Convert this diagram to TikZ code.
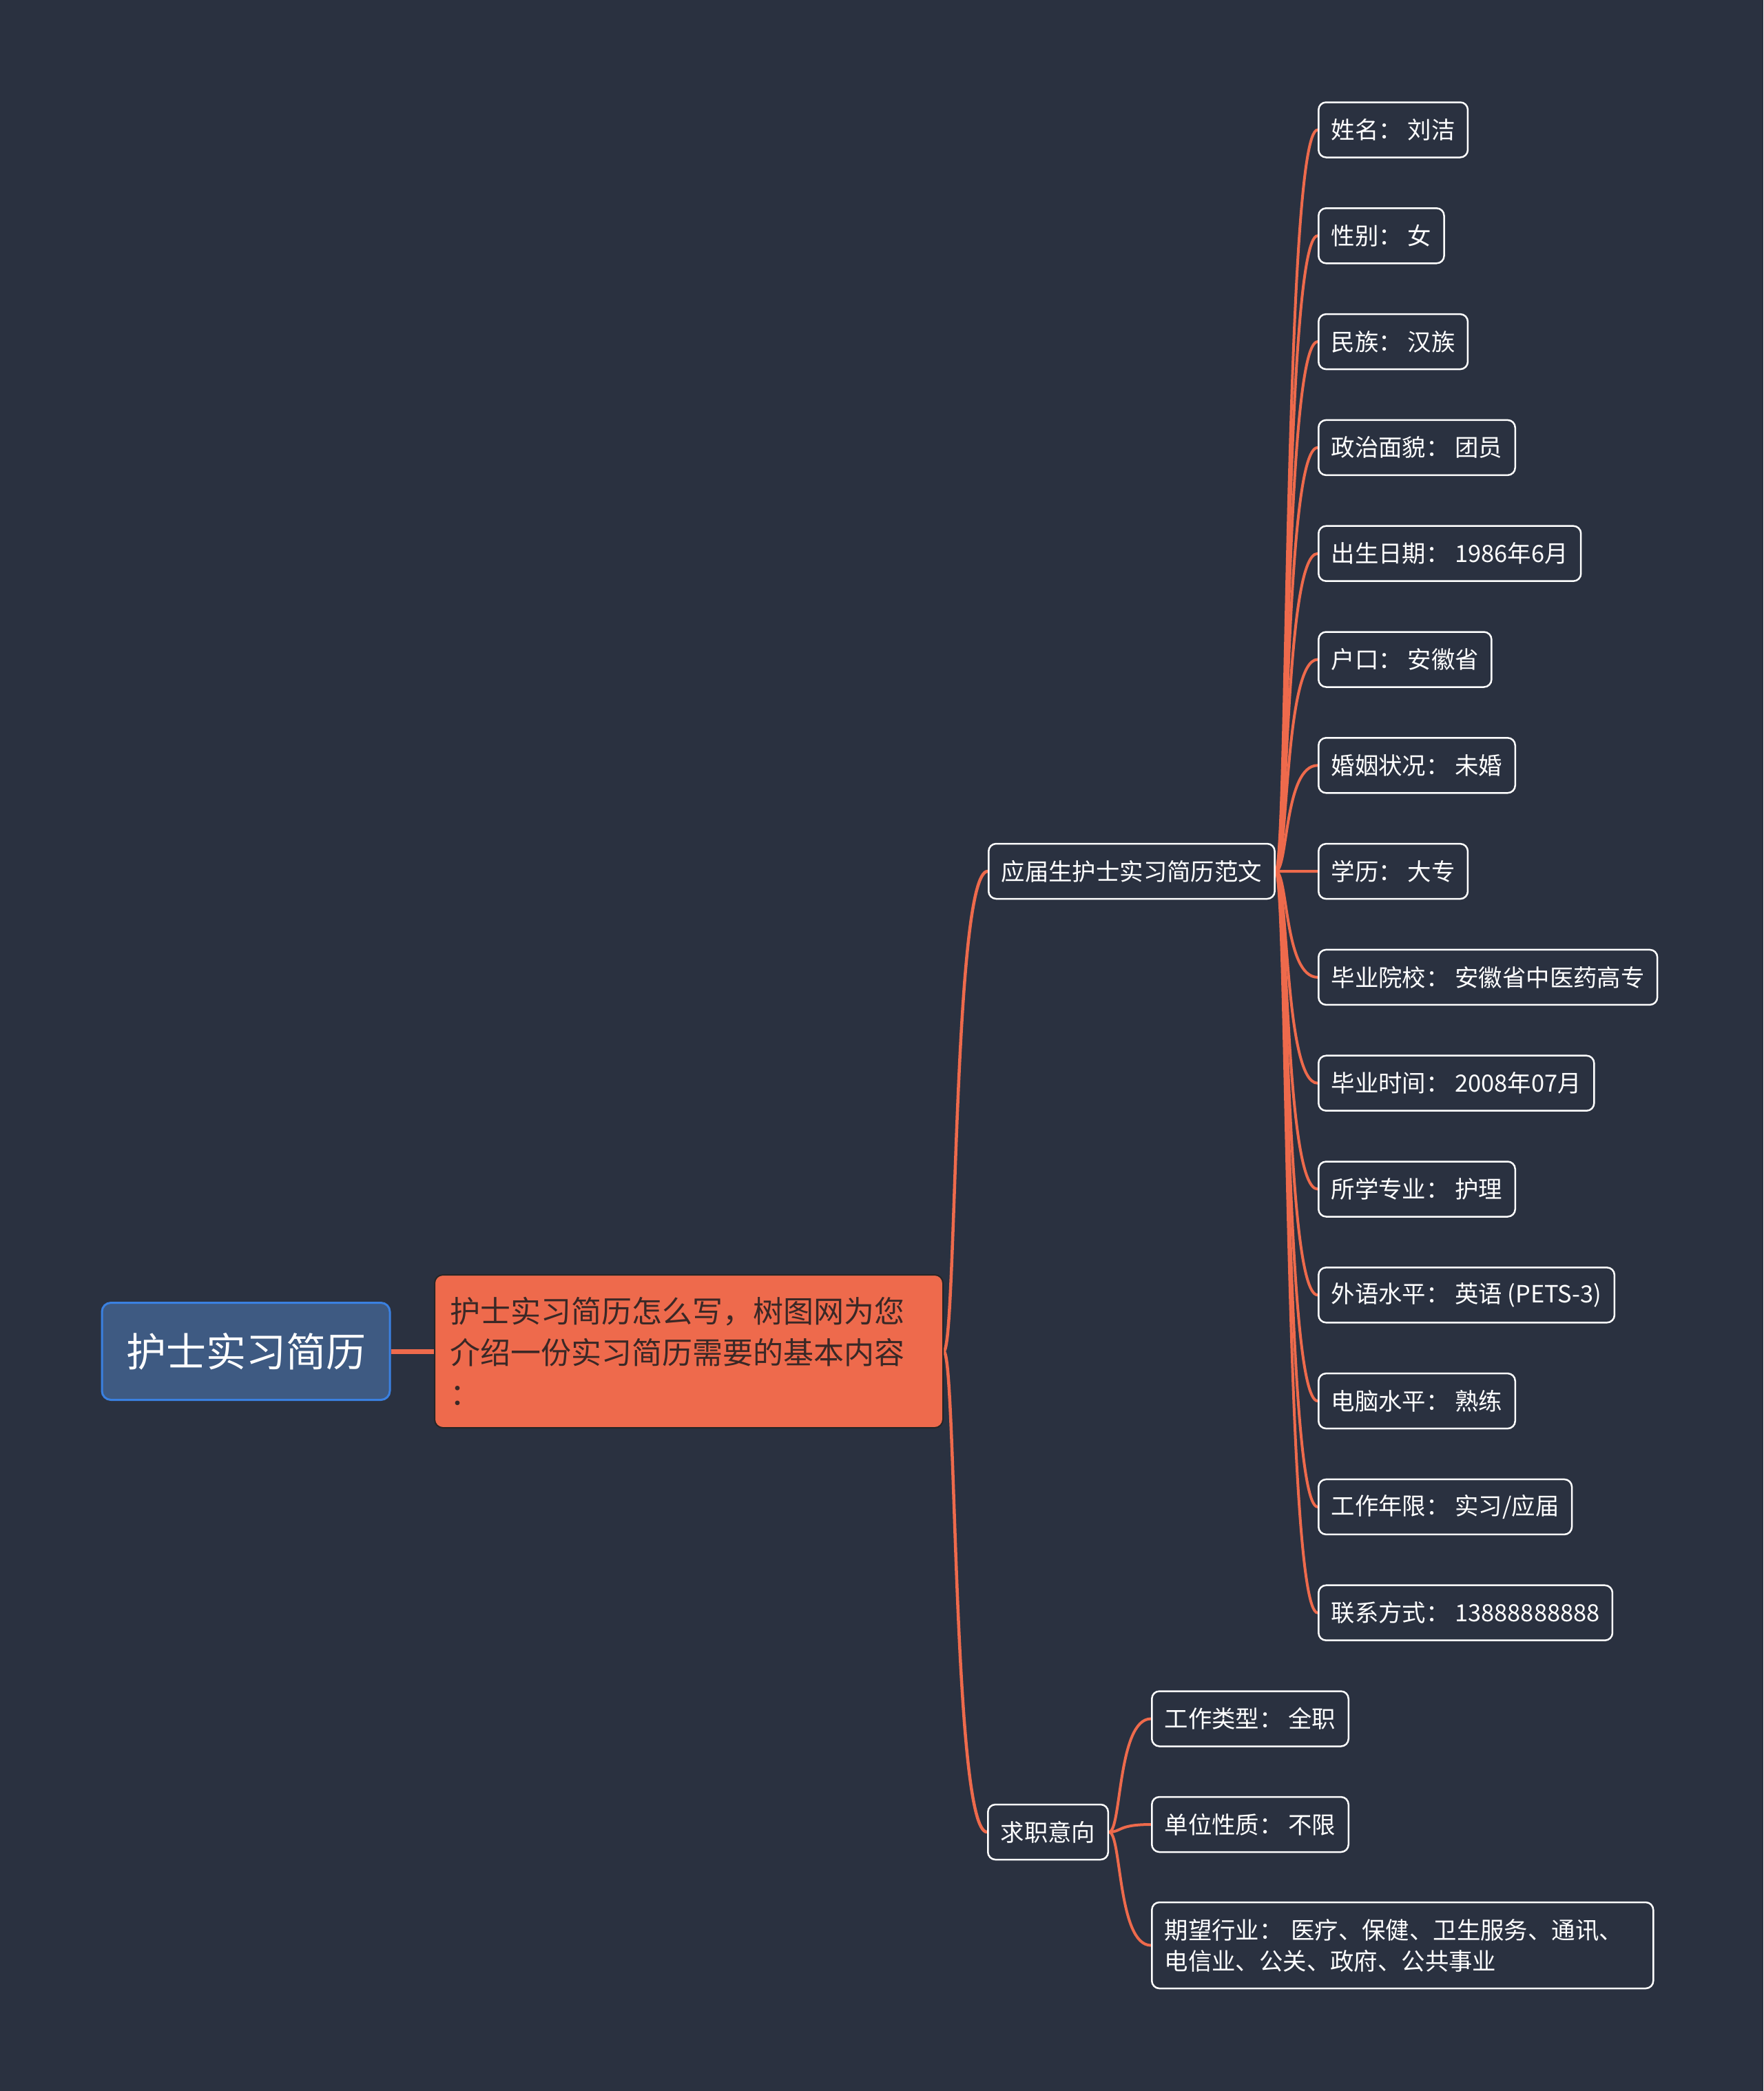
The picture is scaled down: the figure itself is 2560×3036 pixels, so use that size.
\documentclass[tikz,border=0pt]{standalone}
\usepackage{fontspec}
\setmainfont{Noto Sans CJK SC}
\usetikzlibrary{calc}
\pgfdeclarelayer{backlayer}
\pgfsetlayers{backlayer,main}
\definecolor{bgc}{HTML}{2A3140}
\definecolor{brc}{HTML}{EE6A4C}
\definecolor{rootfill}{HTML}{3E5A82}
\definecolor{rootdraw}{HTML}{3A80E0}
\definecolor{ctext}{HTML}{3A2826}
\tikzset{
  leafbox/.style={draw=white, line width=2.5pt, rounded corners=11pt, fill=bgc, text=white,
    font=\fontsize{34.4pt}{45pt}\selectfont, inner xsep=18.5pt, inner ysep=0pt,
    minimum height=80pt, anchor=west, align=left},
  rootbox/.style={draw=rootdraw, line width=3pt, rounded corners=13pt, fill=rootfill, text=white,
    font=\fontsize{58pt}{70pt}\selectfont, minimum width=418pt, minimum height=141pt, inner sep=0pt},
  centerbox/.style={draw=black!85, line width=2pt, rounded corners=12pt, fill=brc, text=ctext,
    font=\fontsize{44pt}{60pt}\selectfont, text width=694pt, inner xsep=22pt, inner ysep=0pt,
    minimum height=222pt, align=left, anchor=west},
  brline/.style={draw=brc, line width=#1, line cap=round},
  brline/.default=4pt,
}
% curve from parent anchor #1 to child anchor #2, stroke width #3
\newcommand\mybranch[3]{%
  \coordinate (tP0) at (#1);
  \coordinate (tP3) at (#2);
  \coordinate (tM1) at ($(tP0)!0.3!(tP3)$);
  \coordinate (tM2) at ($(tP0)!0.2!(tP3)$);
  \coordinate (tP1) at (tM1 |- tP0);
  \coordinate (tP2) at (tM2 |- tP3);
  \draw[brline=#3] (tP0) .. controls (tP1) and (tP2) .. (tP3);
}
\begin{document}
\begin{tikzpicture}[x=1pt,y=-1pt]
\useasboundingbox (0,0) rectangle (2560,3036);
\begin{pgfonlayer}{backlayer}
\fill[bgc] (0,0) rectangle (2560,3036);
\end{pgfonlayer}

\node[rootbox] (root) at (357,1962) {护士实习简历};
\node[centerbox] (center) at (630,1962) {护士实习简历怎么写，树图网为您\\介绍一份实习简历需要的基本内容\\：};

\node[leafbox] (a) at (1434,1265) {应届生护士实习简历范文};
\node[leafbox] (b) at (1433,2660) {求职意向};

\foreach \t [count=\i from 0] in {{姓名： 刘洁},{性别： 女},{民族： 汉族},{政治面貌： 团员},{出生日期： 1986年6月},{户口： 安徽省},{婚姻状况： 未婚},{学历： 大专},{毕业院校： 安徽省中医药高专},{毕业时间： 2008年07月},{所学专业： 护理},{外语水平： 英语 (PETS-3)},{电脑水平： 熟练},{工作年限： 实习/应届},{联系方式： 13888888888}}{
  \node[leafbox] (l\i) at (1913,{188.5+153.8*\i}) {\t};
}

\node[leafbox] (s0) at (1671,2495.5) {工作类型： 全职};
\node[leafbox] (s1) at (1671,2649) {单位性质： 不限};
\node[leafbox, minimum height=125pt, text width=691pt] (s2) at (1671,2824.5) {期望行业： 医疗、保健、卫生服务、通讯、\\电信业、公关、政府、公共事业};

\begin{pgfonlayer}{backlayer}
\draw[brline=7pt, line cap=butt] (root.east) -- (center.west);
\mybranch{center.east}{a.west}{4.5pt}
\mybranch{center.east}{b.west}{4.5pt}
\foreach \i in {0,...,14}{
  \mybranch{a.east}{l\i.west}{4pt}
}
\foreach \i in {0,1,2}{
  \mybranch{b.east}{s\i.west}{4pt}
}
\end{pgfonlayer}
\end{tikzpicture}
\end{document}
